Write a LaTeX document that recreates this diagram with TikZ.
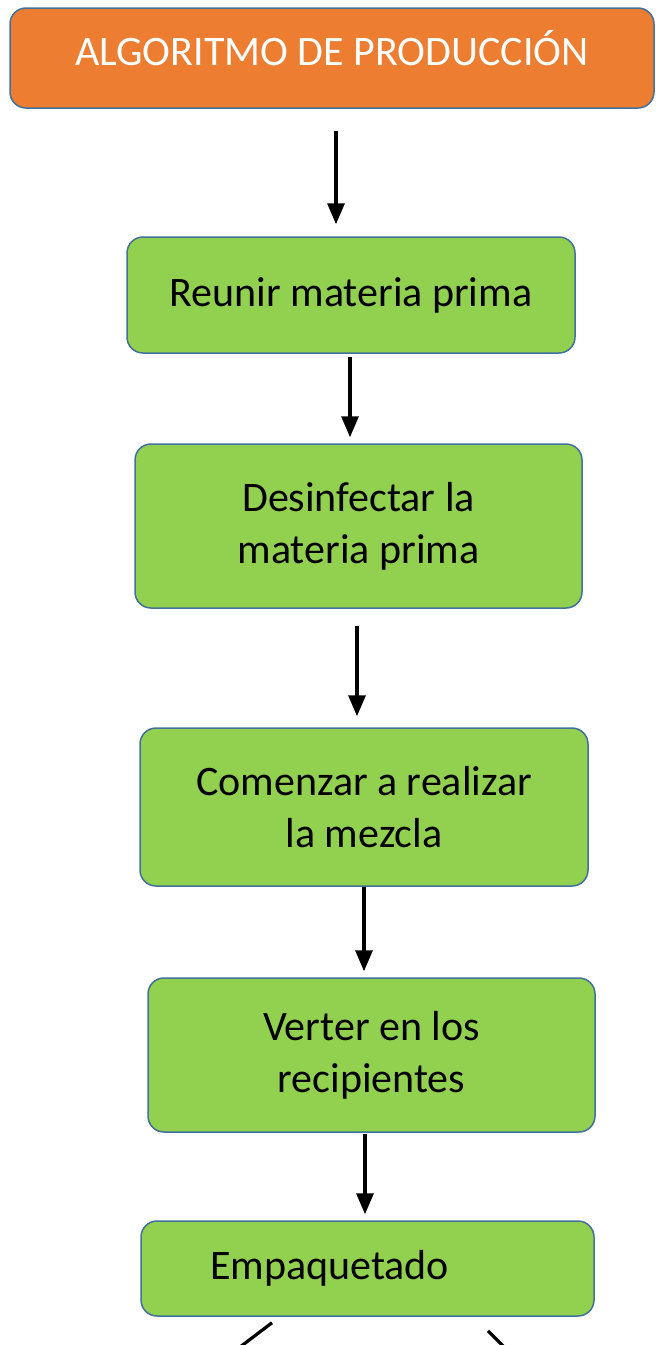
\documentclass[tikz,border=0pt]{standalone}
\usepackage{fontspec}
\setmainfont{Carlito}
\usetikzlibrary{arrows.meta}
\definecolor{orangeF}{HTML}{ED7D31}
\definecolor{greenF}{HTML}{92D050}
\definecolor{edgeB}{HTML}{41719C}
\begin{document}
\begin{tikzpicture}[x=1pt,y=-1pt,
 box/.style={draw=edgeB, line width=1.5pt, rounded corners=16pt, fill=greenF, align=center, font=\fontsize{42}{52}\selectfont, inner sep=0pt},
 arr/.style={-{Triangle[width=17pt,length=21pt]}, line width=3.2pt},
 ln/.style={line width=3.2pt},
]
\useasboundingbox (0,0) rectangle (656,1345);
\clip (0,0) rectangle (656,1345);
\node[box, fill=orangeF, text=white, minimum width=644pt, minimum height=100pt] (t) at (332,58) {\raisebox{-7.5pt}[0pt][0pt]{ALGORITMO DE PRODUCCIÓN}};
\node[box, minimum width=448pt, minimum height=116pt] (b1) at (351,295) {Reunir materia prima};
\node[box, minimum width=447pt, minimum height=164pt] (b2) at (358.5,526) {Desinfectar la\\materia prima};
\node[box, minimum width=448pt, minimum height=158pt] (b3) at (364,807) {Comenzar a realizar\\la mezcla};
\node[box, minimum width=447pt, minimum height=154pt] (b4) at (371.5,1055) {Verter en los\\recipientes};
\node[box, align=left, text width=315pt, inner xsep=69pt, minimum height=95pt] (b5) at (367.5,1268.5) {Empaquetado};
\coordinate (x1) at (336,0);
\coordinate (x2) at (350,0);
\coordinate (x3) at (357,0);
\coordinate (x4) at (364,0);
\coordinate (x5) at (365,0);
\coordinate (x6) at (272,0);
\coordinate (x7) at (488,0);
\coordinate (l1) at (236,1350);
\coordinate (l2) at (507,1350);
\draw[arr, shorten <=22pt, shorten >=12pt] (t.south -| x1) -- (b1.north -| x1);
\draw[arr, shorten <=3pt, shorten >=6pt] (b1.south -| x2) -- (b2.north -| x2);
\draw[arr, shorten <=17pt, shorten >=11pt] (b2.south -| x3) -- (b3.north -| x3);
\draw[arr, shorten >=6pt] (b3.south -| x4) -- (b4.north -| x4);
\draw[arr, shorten <=1pt, shorten >=6pt] (b4.south -| x5) -- (b5.north -| x5);
\draw[ln] ([yshift=-6pt]b5.south -| x6) -- (l1);
\draw[ln] ([yshift=-14pt]b5.south -| x7) -- (l2);
\end{tikzpicture}
\end{document}
